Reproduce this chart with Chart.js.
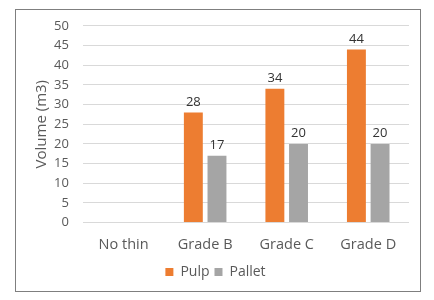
<!DOCTYPE html>
<html>
<head>
<meta charset="utf-8">
<script src="https://cdn.jsdelivr.net/npm/chart.js@4"></script>
<style>
  body { margin: 0; background: #fff; }
  .frame {
    position: absolute; left: 15px; top: 9px; width: 404px; height: 281px;
    border: 1.5px solid #7f7f7f;
  }
  canvas { position: absolute; left: 0; top: -6px; }
</style>
</head>
<body>
<div class="frame"><canvas id="chart" width="404" height="287"></canvas></div>
<script>
const categories = ['No thin', 'Grade B', 'Grade C', 'Grade D'];
const pulp = [null, 28, 34, 44];
const pallet = [null, 17, 20, 20];
const yTicks = { min: 0, max: 50, step: 5 };

const FONT = '"Open Sans", "Liberation Sans", sans-serif';

// draws the value above each bar
const valueLabels = {
  id: 'valueLabels',
  afterDatasetsDraw(chart) {
    const ctx = chart.ctx;
    ctx.save();
    ctx.font = '13px ' + FONT;
    ctx.fillStyle = '#333';
    ctx.textAlign = 'center';
    ctx.textBaseline = 'bottom';
    chart.data.datasets.forEach((ds, i) => {
      chart.getDatasetMeta(i).data.forEach((bar, j) => {
        if (ds.data[j] == null) return;
        ctx.fillText(ds.data[j], bar.x, bar.y - 4);
      });
    });
    ctx.restore();
  }
};

new Chart(document.getElementById('chart'), {
  type: 'bar',
  data: {
    labels: categories,
    datasets: [
      { label: 'Pulp', data: pulp, backgroundColor: '#ED7D31' },
      { label: 'Pallet', data: pallet, backgroundColor: '#A5A5A5' }
    ]
  },
  options: {
    responsive: false,
    animation: false,
    layout: { padding: { left: 6, right: 11, top: 2, bottom: 2 } },
    datasets: { bar: { categoryPercentage: 0.58, barPercentage: 0.8 } },
    plugins: {
      legend: {
        position: 'bottom',
        labels: {
          color: '#595959',
          font: { family: FONT, size: 14 },
          usePointStyle: true,
          pointStyle: 'rect',
          boxWidth: 8,
          boxHeight: 8,
          padding: 5
        }
      },
      tooltip: { enabled: false }
    },
    scales: {
      x: {
        grid: { display: false },
        border: { display: false },
        ticks: { color: '#595959', font: { family: FONT, size: 14.5 }, padding: 6 }
      },
      y: {
        min: yTicks.min,
        max: yTicks.max,
        ticks: { stepSize: yTicks.step, autoSkip: false, color: '#595959', font: { family: FONT, size: 13 }, padding: 14 },
        grid: { color: '#d9d9d9', drawTicks: false },
        border: { display: false },
        title: { display: true, text: 'Volume (m3)', color: '#595959', font: { family: FONT, size: 15 }, padding: { top: 11, bottom: -11 } }
      }
    }
  },
  plugins: [valueLabels]
});
</script>
</body>
</html>
